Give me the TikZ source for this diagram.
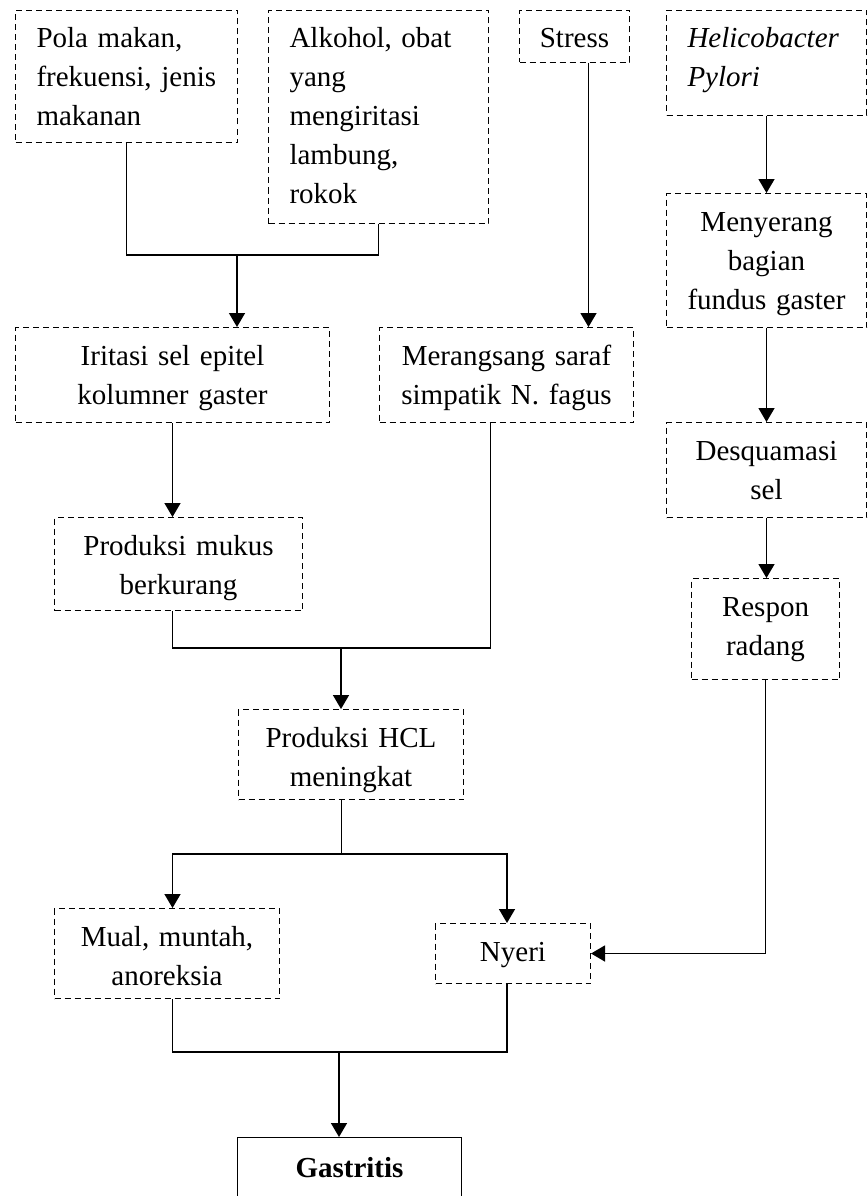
\documentclass[tikz,border=0pt]{standalone}
\usepackage{fontspec}
\setmainfont{Liberation Serif}
\usetikzlibrary{arrows.meta}

\begin{document}
\begin{tikzpicture}[x=1pt,y=-1pt]
		\tikzset{box/.style = {draw, dash pattern=on 6pt off 4pt, line width=1pt, anchor=north west, inner sep=0pt, align=center, font=\fontsize{29}{39}\selectfont, text height=37.5pt}}
		\tikzset{boxl/.style = {box, align=left, inner xsep=21pt}}
		\tikzset{line/.style = {line width=1.5pt}}
		\tikzset{arr/.style = {line width=1.5pt, -{Triangle[width=16pt,length=14pt]}}}
		\useasboundingbox (0,0) rectangle (867,1196);
		%causes
		\node[boxl, text width=180pt, text depth=94.5pt] (pola) at (15,10) {Pola makan,\\frekuensi, jenis\\makanan};
		\node[boxl, text width=178pt, text depth=175.5pt] (alkohol) at (268,10) {Alkohol, obat\\yang\\mengiritasi\\lambung,\\rokok};
		\node[box, text width=110pt, text depth=14.5pt] (stress) at (519,10) {Stress};
		\node[boxl, text width=158pt, text depth=67.5pt, font=\fontsize{29}{39}\selectfont\itshape] (heli) at (666,10) {Helicobacter\\Pylori};
		%middle
		\node[box, text width=200pt, text depth=96.5pt] (meny) at (666,193) {Menyerang\\bagian\\fundus gaster};
		\node[box, text width=314pt, text depth=57.5pt] (iritasi) at (15,327) {Iritasi sel epitel\\kolumner gaster};
		\node[box, text width=254pt, text depth=57.5pt] (merangsang) at (379,327) {Merangsang saraf\\simpatik N. fagus};
		\node[box, text width=200pt, text depth=57.5pt] (desq) at (666,422) {Desquamasi\\sel};
		\node[box, text width=248pt, text depth=55.5pt] (mukus) at (54,517) {Produksi mukus\\berkurang};
		\node[box, text width=148pt, text depth=63.5pt] (respon) at (691,578) {Respon\\radang};
		\node[box, text width=225pt, text depth=52.5pt] (hcl) at (238,709) {Produksi HCL\\meningkat};
		%effects
		\node[box, text width=225pt, text depth=52.5pt] (mual) at (54,908) {Mual, muntah,\\anoreksia};
		\node[box, text width=155pt, text depth=22.5pt] (nyeri) at (435,923) {Nyeri};
		\node[box, solid, text width=224pt, text height=40pt, text depth=55pt, font=\fontsize{29}{39}\selectfont\bfseries] (gastritis) at (237,1137) {Gastritis};
		%junctions
		\coordinate (j1) at (237,255);
		\coordinate (j2) at (341,648);
		\coordinate (j3) at (341,854);
		\coordinate (j4) at (339,1052);
		%edges
		\draw[line] (pola.south) |- (j1) -| (alkohol.south);
		\draw[arr] (j1) -- (j1 |- iritasi.north);
		\draw[arr] ([xshift=14pt]stress.south) -- ([xshift=14pt]stress.south |- merangsang.north);
		\draw[arr] (heli.south) -- (meny.north);
		\draw[arr] (meny.south) -- (desq.north);
		\draw[arr] (desq.south) -- (desq.south |- respon.north);
		\draw[arr] (iritasi.south) -- (iritasi.south |- mukus.north);
		\draw[line] (mukus.south -| iritasi.south) |- (j2) -| ([xshift=-16pt]merangsang.south);
		\draw[arr] (j2) -- (j2 |- hcl.north);
		\draw[line, line width=1pt] (j2 |- hcl.south) -- (j3);
		\draw[arr] (j3) -| (mual.north -| iritasi.south);
		\draw[arr] (j3) -| ([xshift=-6pt]nyeri.north);
		\draw[arr] (respon.south) |- (nyeri.east);
		\draw[line] (mual.south -| iritasi.south) |- (j4) -| ([xshift=-6pt]nyeri.south);
		\draw[arr] (j4) -- (j4 |- gastritis.north);
\end{tikzpicture}
\end{document}
